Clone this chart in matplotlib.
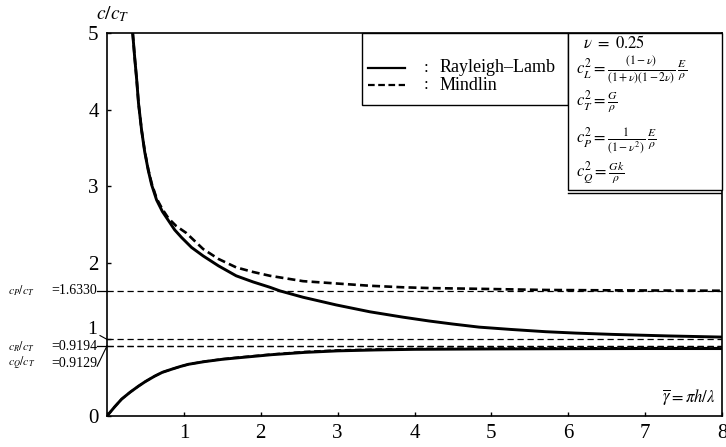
import matplotlib
matplotlib.use("Agg")
import matplotlib.pyplot as plt
from matplotlib.patches import Rectangle
from matplotlib.lines import Line2D

plt.rcParams["font.family"] = ["Liberation Serif", "DejaVu Serif"]
plt.rcParams["mathtext.fontset"] = "stix"

# Rayleigh-Lamb, upper branch
rl_up_x = [0.334, 0.36, 0.386, 0.41, 0.45, 0.49, 0.536, 0.58, 0.645, 0.72, 0.80,
           0.88, 0.97, 1.1, 1.25, 1.45, 1.68, 1.9, 2.12, 2.25, 2.55, 2.98, 3.42,
           3.85, 4.19, 4.5, 4.84, 5.25, 5.71, 6.1, 6.58, 7.3, 8.0]
rl_up_y = [5.0, 4.68, 4.39, 4.08, 3.73, 3.45, 3.21, 3.02, 2.82, 2.67, 2.55,
           2.43, 2.33, 2.20, 2.09, 1.96, 1.83, 1.75, 1.68, 1.633, 1.55, 1.45, 1.36,
           1.29, 1.24, 1.20, 1.16, 1.13, 1.10, 1.082, 1.065, 1.045, 1.03]

# Mindlin, upper branch
md_up_x = [0.334, 0.36, 0.386, 0.41, 0.45, 0.49, 0.536, 0.58, 0.645, 0.72, 0.80,
           0.9, 1.03, 1.25, 1.45, 1.68, 1.9, 2.12, 2.55, 2.98, 3.42, 3.85, 4.19,
           4.84, 5.71, 6.58, 8.0]
md_up_y = [5.0, 4.68, 4.39, 4.08, 3.73, 3.46, 3.22, 3.04, 2.84, 2.70, 2.58,
           2.48, 2.39, 2.18, 2.05, 1.94, 1.88, 1.83, 1.76, 1.73, 1.70, 1.68, 1.67,
           1.66, 1.645, 1.64, 1.635]

# lower branches
low_x = [0, 0.05, 0.1, 0.19, 0.3, 0.41, 0.5, 0.62, 0.72, 0.84, 0.95, 1.06, 1.27,
         1.5, 1.71, 2.14, 2.57, 3.0, 3.5, 4.0, 5.0, 6.0, 7.0, 8.0]
rl_low_y = [0, 0.06, 0.12, 0.22, 0.31, 0.39, 0.45, 0.52, 0.57, 0.61, 0.645, 0.675,
            0.71, 0.74, 0.76, 0.80, 0.83, 0.85, 0.862, 0.87, 0.875, 0.878, 0.88, 0.88]
md_low_y = [0, 0.06, 0.12, 0.22, 0.31, 0.39, 0.45, 0.52, 0.57, 0.61, 0.645, 0.675,
            0.712, 0.743, 0.765, 0.805, 0.838, 0.858, 0.87, 0.877, 0.883, 0.885,
            0.887, 0.887]

# reference levels
ref_levels = [1.633, 1.0, 0.9194, 0.9129]

x_ticks = [0, 1, 2, 3, 4, 5, 6, 7, 8]
x_labels = ["", "1", "2", "3", "4", "5", "6", "7", "8"]
y_ticks = [0, 1, 2, 3, 4, 5]
y_labels = ["0", "", "2", "3", "4", "5"]

fig = plt.figure(figsize=(7.26, 4.47), dpi=100)
ax = fig.add_axes([0.1474, 0.0694, 0.8471, 0.8568])

for v in ref_levels:
    ax.axhline(v, color="black", lw=0.9, ls=(0, (5, 3)), zorder=1)

ax.plot(rl_up_x, rl_up_y, color="black", lw=2.1, zorder=3)
ax.plot(md_up_x, md_up_y, color="black", lw=1.9, ls=(0, (3, 1.6)), zorder=3)
ax.plot(low_x, rl_low_y, color="black", lw=2.1, zorder=3)
ax.plot(low_x, md_low_y, color="black", lw=1.6, ls=(0, (3, 1.6)), zorder=3)

ax.set_xlim(0, 8)
ax.set_ylim(0, 5)
ax.set_xticks(x_ticks)
ax.set_xticklabels(x_labels)
ax.set_yticks(y_ticks)
ax.set_yticklabels(y_labels)
ax.tick_params(direction="in", length=3, width=1, labelsize=15)
ax.tick_params(axis="x", pad=6)
ax.tick_params(axis="y", pad=6)
for s in ax.spines.values():
    s.set_linewidth(1.2)

# axis titles
fig.text(0.155, 0.968, r"$c/c_T$", fontsize=14, ha="center", va="center")
ax.text(0.989, 0.02, r"$\overline{\gamma}=\pi h/\lambda$", transform=ax.transAxes,
        fontsize=12, ha="right", va="bottom")

# legend box
ax.add_patch(Rectangle((0.415, 0.812), 0.335, 0.188, transform=ax.transAxes,
                       fill=True, facecolor="white", edgecolor="black", lw=1.0,
                       zorder=5, clip_on=False))
ax.add_line(Line2D([0.424, 0.485], [0.909, 0.909], transform=ax.transAxes,
                   color="black", lw=1.6, zorder=6))
ax.add_line(Line2D([0.424, 0.485], [0.864, 0.864], transform=ax.transAxes,
                   color="black", lw=1.6, ls=(0, (3, 1.6)), zorder=6))
for yy, name in [(0.909, "Rayleigh\u2013Lamb"), (0.864, "Mindlin")]:
    ax.text(0.519, yy, ":", transform=ax.transAxes, fontsize=12,
            ha="center", va="center", zorder=6)
    ax.text(0.541, yy, name, transform=ax.transAxes, fontsize=13,
            ha="left", va="center", zorder=6)

# formula box
ax.add_patch(Rectangle((0.75, 0.59), 0.25, 0.41, transform=ax.transAxes,
                       fill=True, facecolor="white", edgecolor="black", lw=1.0,
                       zorder=5, clip_on=False))
ax.add_line(Line2D([0.75, 1.0], [0.583, 0.583], transform=ax.transAxes,
                   color="black", lw=1.0, zorder=6))
formulas = [
    (0.774, 0.972, r"$\nu\ =\ 0.25$"),
    (0.763, 0.903, r"$c_L^2=\frac{(1-\nu)}{(1+\nu)(1-2\nu)}\,\frac{E}{\rho}$"),
    (0.763, 0.820, r"$c_T^2=\frac{G}{\rho}$"),
    (0.763, 0.716, r"$c_P^2=\frac{1}{(1-\nu^2)}\,\frac{E}{\rho}$"),
    (0.763, 0.636, r"$c_Q^2=\frac{Gk}{\rho}$"),
]
for fx, fy, s in formulas:
    ax.text(fx, fy, s, transform=ax.transAxes, fontsize=12,
            ha="left", va="center", zorder=6)

# left side annotations
tr = ax.get_yaxis_transform()
ax.plot([-0.0163, 0], [1.633, 1.633], transform=tr, color="black", lw=0.9, clip_on=False)
ax.plot([-0.0163, 0], [0.9194, 0.9194], transform=tr, color="black", lw=0.9, clip_on=False)
ax.plot([-0.0114, 0], [1.05, 1.0], transform=tr, color="black", lw=0.8, clip_on=False)
ax.plot([-0.016, 0], [0.65, 0.916], transform=tr, color="black", lw=0.8, clip_on=False)

ax.text(-0.0163, 1.13, "1", transform=tr, fontsize=14, ha="right", va="center")
labels = [(1.633, r"$c_P/c_T$", "=1.6330"),
          (0.905, r"$c_R/c_T$", "=0.9194"),
          (0.69, r"$c_Q/c_T$", "=0.9129")]
for yy, lab, val in labels:
    ax.text(-0.161, yy, lab, transform=tr, fontsize=8.5, ha="left", va="center")
    ax.text(-0.0163, yy, val, transform=tr, fontsize=10, ha="right", va="center")

fig.savefig("out.png", dpi=100)
